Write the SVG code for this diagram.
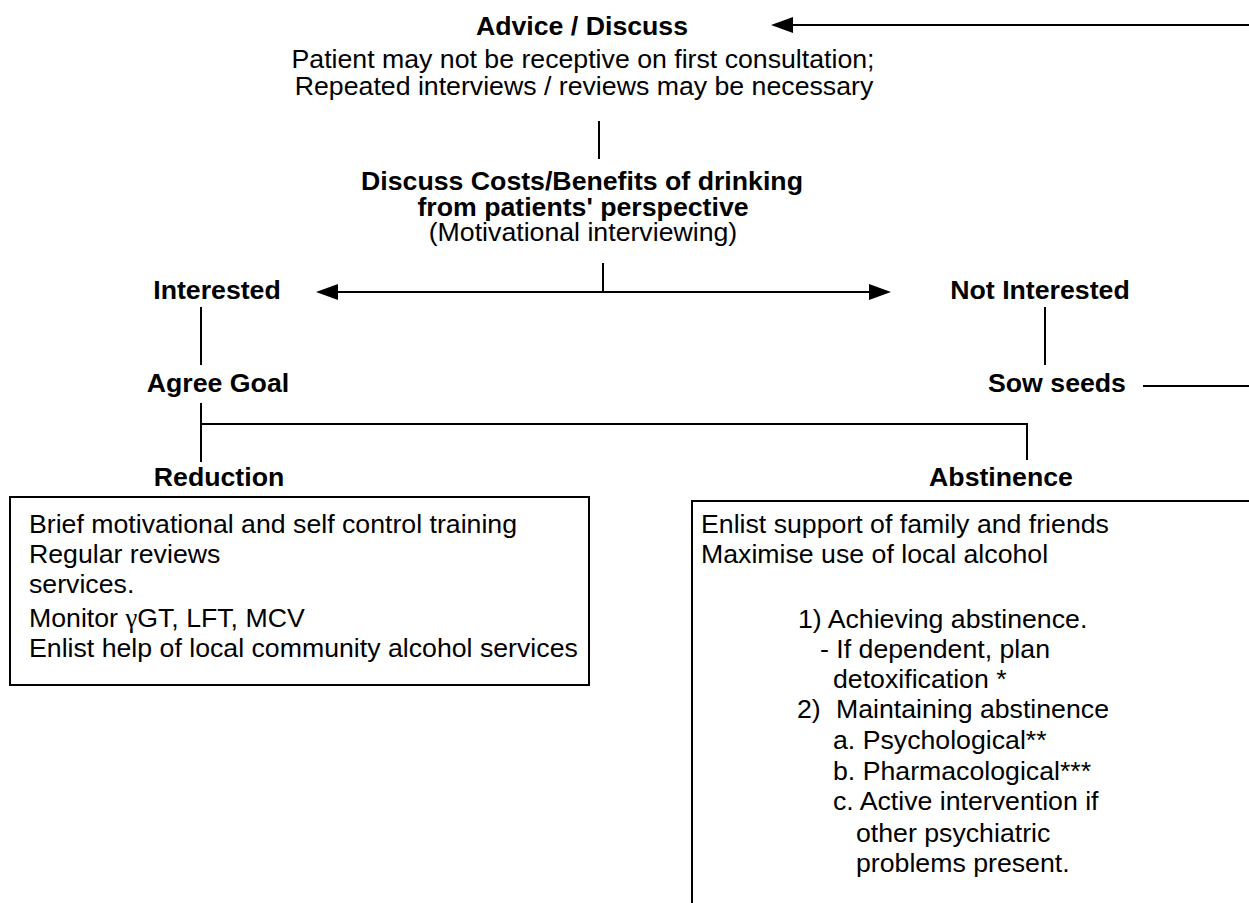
<svg xmlns="http://www.w3.org/2000/svg" width="1249" height="903" viewBox="0 0 1249 903">
<style>
.t{font-family:"Liberation Sans",Arial,sans-serif;font-size:26.7px;fill:#000}
.b{font-weight:bold}
.c{text-anchor:middle}
.ln{stroke:#000;stroke-width:2;fill:none}
.box{stroke:#000;stroke-width:2;fill:#fff}
</style>
<defs>
<marker id="ah" markerUnits="userSpaceOnUse" markerWidth="22" markerHeight="18" refX="2" refY="8" orient="auto-start-reverse" viewBox="0 0 22 16">
<path d="M0,0 L22,8 L0,16 Z" fill="#000"/>
</marker>
</defs>
<rect width="1249" height="903" fill="#fff"/>
<g id="connectors">
<line class="ln" x1="1249" y1="25" x2="791" y2="25" marker-end="url(#ah)"/>
<line class="ln" x1="599" y1="121" x2="599" y2="159"/>
<line class="ln" x1="603" y1="263" x2="603" y2="292"/>
<line class="ln" x1="336" y1="292" x2="871" y2="292" marker-start="url(#ah)" marker-end="url(#ah)"/>
<line class="ln" x1="201" y1="307" x2="201" y2="365"/>
<line class="ln" x1="1045" y1="307" x2="1045" y2="365"/>
<line class="ln" x1="1143" y1="386" x2="1249" y2="386"/>
<polyline class="ln" points="201,403 201,462"/>
<polyline class="ln" points="201,424 1027,424 1027,460"/>
</g>
<g id="advice">
<text class="t b c" x="582" y="35">Advice / Discuss</text>
<text class="t c" x="583" y="68">Patient may not be receptive on first consultation;</text>
<text class="t c" x="584" y="95">Repeated interviews / reviews may be necessary</text>
</g>
<g id="discuss">
<text class="t b c" x="582" y="190">Discuss Costs/Benefits of drinking</text>
<text class="t b c" x="583" y="216">from patients' perspective</text>
<text class="t c" x="583" y="241">(Motivational interviewing)</text>
</g>
<g id="interested">
<text class="t b c" x="217" y="299">Interested</text>
</g>
<g id="not-interested">
<text class="t b c" x="1040" y="299">Not Interested</text>
</g>
<g id="agree-goal">
<text class="t b c" x="218" y="392">Agree Goal</text>
</g>
<g id="sow-seeds">
<text class="t b c" x="1057" y="392">Sow seeds</text>
</g>
<g id="reduction">
<text class="t b c" x="219" y="486">Reduction</text>
<rect class="box" x="10" y="497" width="579" height="188"/>
<text class="t" x="29" y="533">Brief motivational and self control training</text>
<text class="t" x="29" y="563">Regular reviews</text>
<text class="t" x="29" y="593">services.</text>
<text class="t" x="29" y="627">Monitor <tspan font-family="'Liberation Serif',serif">γ</tspan>GT, LFT, MCV</text>
<text class="t" x="29" y="657">Enlist help of local community alcohol services</text>
</g>
<g id="abstinence">
<text class="t b c" x="1001" y="486">Abstinence</text>
<rect class="box" x="692" y="501" width="600" height="450" stroke-width="2.5"/>
<text class="t" x="701" y="533">Enlist support of family and friends</text>
<text class="t" x="701" y="563">Maximise use of local alcohol</text>
<text class="t" x="798" y="628">1) Achieving abstinence.</text>
<text class="t" x="820" y="658">- If dependent, plan</text>
<text class="t" x="833" y="688">detoxification *</text>
<text class="t" x="797" y="718">2)</text>
<text class="t" x="836" y="718">Maintaining abstinence</text>
<text class="t" x="833" y="749">a. Psychological**</text>
<text class="t" x="833" y="780">b. Pharmacological***</text>
<text class="t" x="833" y="810">c. Active intervention if</text>
<text class="t" x="856" y="842">other psychiatric</text>
<text class="t" x="856" y="872">problems present.</text>
</g>
</svg>
